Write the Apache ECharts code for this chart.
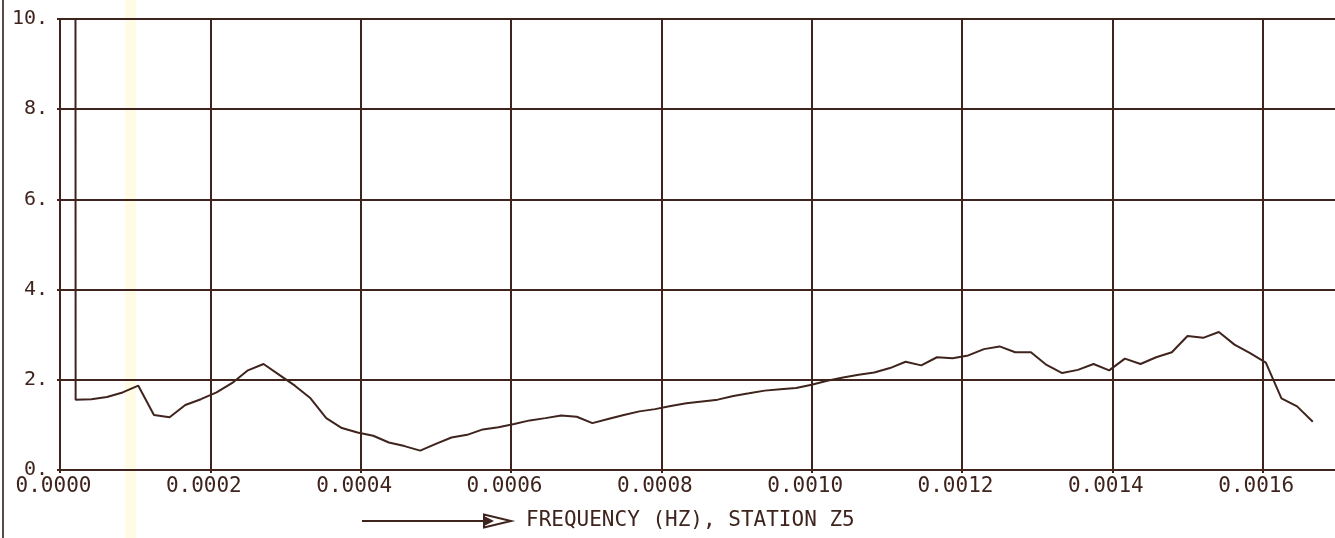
<!DOCTYPE html>
<html>
<head>
<meta charset="utf-8">
<script src="https://cdn.jsdelivr.net/npm/echarts@6/dist/echarts.min.js"></script>
<style>
html,body{margin:0;padding:0;background:#ffffff;overflow:hidden;}
#chart{width:1335px;height:538px;}
</style>
</head>
<body>
<div id="chart"></div>
<script>
// Frequency of each spectral estimate (Hz)
const FREQ_HZ = [
  0.0000208, 0.0000417, 0.0000625, 0.0000833, 0.0001042, 0.0001250, 0.0001458, 0.0001667, 0.0001875, 0.0002083,
  0.0002292, 0.0002500, 0.0002708, 0.0002917, 0.0003125, 0.0003333, 0.0003542, 0.0003750, 0.0003958, 0.0004167,
  0.0004375, 0.0004583, 0.0004792, 0.0005000, 0.0005208, 0.0005417, 0.0005625, 0.0005833, 0.0006042, 0.0006250,
  0.0006458, 0.0006667, 0.0006875, 0.0007083, 0.0007292, 0.0007500, 0.0007708, 0.0007917, 0.0008125, 0.0008333,
  0.0008542, 0.0008750, 0.0008958, 0.0009167, 0.0009375, 0.0009583, 0.0009792, 0.0010000, 0.0010208, 0.0010417,
  0.0010625, 0.0010833, 0.0011042, 0.0011250, 0.0011458, 0.0011667, 0.0011875, 0.0012083, 0.0012292, 0.0012500,
  0.0012708, 0.0012917, 0.0013125, 0.0013333, 0.0013542, 0.0013750, 0.0013958, 0.0014167, 0.0014375, 0.0014583,
  0.0014792, 0.0015000, 0.0015208, 0.0015417, 0.0015625, 0.0015833, 0.0016042, 0.0016250, 0.0016458, 0.0016667
];
// Plotted value at each frequency
const AMPLITUDE = [
  1.56, 1.57, 1.62, 1.72, 1.87, 1.22, 1.17, 1.44, 1.57, 1.72,
  1.93, 2.21, 2.35, 2.11, 1.87, 1.59, 1.15, 0.93, 0.83, 0.76,
  0.61, 0.53, 0.43, 0.58, 0.72, 0.78, 0.90, 0.95, 1.02, 1.10,
  1.15, 1.21, 1.18, 1.04, 1.13, 1.22, 1.30, 1.35, 1.42, 1.48,
  1.52, 1.56, 1.64, 1.70, 1.76, 1.79, 1.82, 1.89, 1.98, 2.05,
  2.11, 2.16, 2.26, 2.40, 2.32, 2.50, 2.48, 2.54, 2.68, 2.74,
  2.61, 2.61, 2.33, 2.15, 2.22, 2.35, 2.21, 2.47, 2.35, 2.50,
  2.61, 2.97, 2.93, 3.06, 2.78, 2.59, 2.38, 1.59, 1.41, 1.07
];
// The trace enters from the top of the frame (off-scale first estimate)
const OFFSCALE_START = [0.0000206, 10];

const Y_TICKS = [0, 2, 4, 6, 8, 10];
const X_TICKS = [0.0000, 0.0002, 0.0004, 0.0006, 0.0008, 0.0010, 0.0012, 0.0014, 0.0016];
const X_TITLE = 'FREQUENCY (HZ), STATION Z5';

const INK = '#3f241d';
const FONT = 'DejaVu Sans Mono';

const seriesData = [OFFSCALE_START].concat(FREQ_HZ.map((f, i) => [f, AMPLITUDE[i]]));

const chart = echarts.init(document.getElementById('chart'), null, {renderer: 'canvas'});
chart.setOption({
  animation: false,
  backgroundColor: '#ffffff',
  grid: {left: 60, top: 19, width: 1353, height: 451, containLabel: false, outerBoundsMode: 'none'},
  xAxis: {
    type: 'value',
    min: 0,
    max: 0.0018,
    interval: 0.0002,
    axisLine: {show: true, lineStyle: {color: INK, width: 2}},
    axisTick: {show: true, length: 3, inside: false, lineStyle: {color: INK, width: 2}},
    splitLine: {show: true, lineStyle: {color: INK, width: 2}},
    axisLabel: {
      show: true,
      color: INK,
      fontFamily: FONT,
      fontSize: 21,
      margin: 6,
      padding: [0, 13, 0, 0],
      showMaxLabel: false,
      formatter: function (v) {
        const hit = X_TICKS.find(t => Math.abs(t - v) < 1e-9);
        return hit === undefined ? '' : hit.toFixed(4);
      }
    }
  },
  yAxis: {
    type: 'value',
    min: Y_TICKS[0],
    max: Y_TICKS[Y_TICKS.length - 1],
    interval: 2,
    axisLine: {show: true, lineStyle: {color: INK, width: 2}},
    axisTick: {show: true, length: 3, inside: false, lineStyle: {color: INK, width: 2}},
    splitLine: {show: true, lineStyle: {color: INK, width: 2}},
    axisLabel: {
      show: true,
      color: INK,
      fontFamily: FONT,
      fontSize: 20,
      margin: 12,
      formatter: function (v) { return v + '.'; }
    }
  },
  series: [{
    type: 'line',
    data: seriesData,
    showSymbol: false,
    symbol: 'none',
    clip: true,
    lineStyle: {color: INK, width: 2},
    z: 5
  }],
  graphic: [
    {type: 'rect', silent: true, z: -10, shape: {x: 125, y: 0, width: 11, height: 538}, style: {fill: '#fffbe4'}},
    {type: 'line', silent: true, shape: {x1: 3, y1: 0, x2: 3, y2: 538}, style: {stroke: '#5a4a44', lineWidth: 2}},
    {type: 'line', silent: true, shape: {x1: 362, y1: 521, x2: 484, y2: 521}, style: {stroke: INK, lineWidth: 2}},
    {type: 'polygon', silent: true, shape: {points: [[484, 514.5], [484, 527.5], [511, 521]]}, style: {fill: 'none', stroke: INK, lineWidth: 2}},
    {type: 'polygon', silent: true, shape: {points: [[484, 516], [484, 526], [494, 521]]}, style: {fill: INK}},
    {type: 'text', silent: true, x: 526, y: 521, style: {text: X_TITLE, fill: INK, font: '21px "DejaVu Sans Mono"', textVerticalAlign: 'middle', textAlign: 'left'}}
  ]
});
</script>
</body>
</html>
